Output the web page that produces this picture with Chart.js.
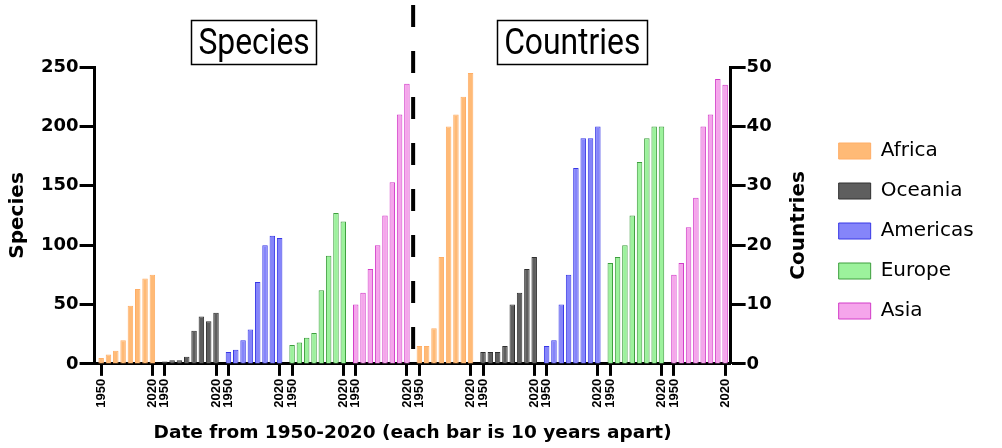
<!DOCTYPE html>
<html>
<head>
<meta charset="utf-8">
<script src="https://cdn.jsdelivr.net/npm/chart.js@4/dist/chart.umd.min.js"></script>
<style>
  body { margin: 0; background: #fff; }
  #wrap { width: 1002px; height: 448px; }
</style>
</head>
<body>
<div id="wrap"><canvas id="myChart"></canvas></div>
<script>
  const years = ['1950', '1960', '1970', '1980', '1990', '2000', '2010', '2020']
  const regions = ['Africa', 'Oceania', 'Americas', 'Europe', 'Asia']

  // species per decade
  const africaSpecies = [5, 8, 11, 20, 49, 63, 72, 75]
  const oceaniaSpecies = [2, 3, 3, 6, 28, 40, 36, 43]
  const americasSpecies = [10, 12, 20, 29, 69, 100, 108, 106]
  const europeSpecies = [16, 18, 22, 26, 62, 91, 127, 120]
  const asiaSpecies = [50, 60, 80, 100, 125, 153, 210, 236]

  // countries per decade
  const africaCountries = [3, 3, 6, 18, 40, 42, 45, 49]
  const oceaniaCountries = [2, 2, 2, 3, 10, 12, 16, 18]
  const americasCountries = [3, 4, 10, 15, 33, 38, 38, 40]
  const europeCountries = [17, 18, 20, 25, 34, 38, 40, 40]
  const asiaCountries = [15, 17, 23, 28, 40, 42, 48, 47]

  const speciesSeries = [africaSpecies, oceaniaSpecies, americasSpecies, europeSpecies, asiaSpecies]
  const countriesSeries = [africaCountries, oceaniaCountries, americasCountries, europeCountries, asiaCountries]

  const fills = ['#FFBA76', '#5E5E5E', '#8585FA', '#9CF29C', '#F5A5EB']
  const edges = ['#FFAE66', '#303030', '#3838E6', '#3E9E3E', '#D23CC8']

  const groupStep = years.length + 0.7   // 8 bars + gap
  const halfSize = regions.length

  function slot(group, i) {
    return group * groupStep + i
  }

  let datasets = []
  speciesSeries.forEach((vals, r) => {
    datasets.push({
      label: regions[r],
      data: vals.map((v, i) => ({ x: slot(r, i), y: v })),
      backgroundColor: fills[r],
      borderColor: edges[r],
      borderWidth: 1,
      yAxisID: 'y'
    })
  })
  countriesSeries.forEach((vals, r) => {
    datasets.push({
      label: regions[r] + ' (countries)',
      data: vals.map((v, i) => ({ x: slot(halfSize + r, i), y: v })),
      backgroundColor: fills[r],
      borderColor: edges[r],
      borderWidth: 1,
      yAxisID: 'y1'
    })
  })

  // x ticks at first and last bar of every group
  let tickVals = []
  for (let g = 0; g < halfSize * 2; g++) {
    tickVals.push(slot(g, 0), slot(g, years.length - 1))
  }

  const lastLeft = slot(halfSize - 1, years.length - 1)
  const firstRight = slot(halfSize, 0)
  const lastRight = slot(halfSize * 2 - 1, years.length - 1)

  const decor = {
    id: 'decor',
    afterDraw(chart) {
      const ctx = chart.ctx
      const xs = chart.scales.x
      const area = chart.chartArea

      // dashed divider
      const xd = xs.getPixelForValue((lastLeft + firstRight) / 2)
      ctx.save()
      ctx.strokeStyle = '#000'
      ctx.lineWidth = 4
      ctx.setLineDash([22, 24])
      ctx.beginPath()
      ctx.moveTo(xd, 5)
      ctx.lineTo(xd, area.bottom)
      ctx.stroke()
      ctx.restore()

      // boxed half titles (narrow lettering)
      const squeeze = 0.86
      const boxes = [
        { text: 'Species', x: xs.getPixelForValue(lastLeft / 2) },
        { text: 'Countries', x: xs.getPixelForValue((firstRight + lastRight) / 2) }
      ]
      ctx.save()
      ctx.font = '37px Roboto, sans-serif'
      ctx.textAlign = 'center'
      ctx.textBaseline = 'alphabetic'
      ctx.fillStyle = '#000'
      ctx.strokeStyle = '#000'
      ctx.lineWidth = 1.5
      boxes.forEach(b => {
        const w = ctx.measureText(b.text).width * squeeze
        ctx.strokeRect(Math.round(b.x - w / 2 - 7) + 0.5, 20.5, Math.round(w + 14), 44)
        ctx.save()
        ctx.translate(b.x, 54)
        ctx.scale(squeeze, 1)
        ctx.fillText(b.text, 0, 0)
        ctx.restore()
      })
      ctx.restore()

      // right axis title, reading bottom to top
      const ys = chart.scales.y1
      ctx.save()
      ctx.translate(ys.right - 20, (area.top + area.bottom) / 2 + 10)
      ctx.rotate(-Math.PI / 2)
      ctx.font = 'bold 20px "DejaVu Sans"'
      ctx.textAlign = 'center'
      ctx.textBaseline = 'middle'
      ctx.fillStyle = '#000'
      ctx.fillText('Countries', 0, 0)
      ctx.restore()
    }
  }

  Chart.defaults.color = '#000'
  Chart.defaults.font.family = '"DejaVu Sans", sans-serif'

  const axisLine = { display: true, width: 3, color: '#000' }
  const axisGrid = { drawOnChartArea: false, tickLength: 15, tickWidth: 3, tickColor: '#000' }

  let ctx = document.getElementById('myChart')

  new Chart(ctx, {
    type: 'bar',
    data: { datasets: datasets },
    plugins: [decor],
    options: {
      responsive: true,
      maintainAspectRatio: false,
      animation: false,
      datasets: {
        bar: { grouped: false, categoryPercentage: 1, barPercentage: 0.75 }
      },
      layout: { padding: { top: 14, bottom: 0, left: 2, right: 20 } },
      plugins: {
        tooltip: { enabled: false },
        title: {
          display: true,
          text: '',
          font: { size: 20 },
          padding: { top: 0, bottom: 29 }
        },
        legend: {
          position: 'right',
          align: 'center',
          labels: {
            boxWidth: 32,
            boxHeight: 16,
            padding: 20,
            color: '#000',
            font: { size: 20, family: '"DejaVu Sans"' },
            filter: item => item.datasetIndex < regions.length
          }
        }
      },
      scales: {
        x: {
          type: 'linear',
          offset: false,
          min: -0.9,
          max: lastRight + 0.75,
          border: axisLine,
          grid: { offset: false, drawOnChartArea: false, tickLength: 12, tickWidth: 3, tickColor: '#000' },
          afterBuildTicks: scale => {
            scale.ticks = tickVals.map(v => ({ value: v }))
          },
          ticks: {
            autoSkip: false,
            minRotation: 90,
            maxRotation: 90,
            padding: 3,
            font: { size: 13, weight: 'bold', family: '"Liberation Sans"' },
            callback: (value, index) => index % 2 === 0 ? years[0] : years[years.length - 1]
          },
          title: {
            display: true,
            text: 'Date from 1950-2020 (each bar is 10 years apart)',
            font: { size: 18.5, weight: 'bold' },
            padding: { top: 11, bottom: 4 }
          }
        },
        y: {
          position: 'left',
          min: 0,
          max: 250,
          border: axisLine,
          grid: axisGrid,
          ticks: { stepSize: 50, padding: 1, font: { size: 18, weight: 'bold' } },
          title: {
            display: true,
            text: 'Species',
            font: { size: 20, weight: 'bold' },
            padding: { top: 4, bottom: 10 }
          }
        },
        y1: {
          position: 'right',
          min: 0,
          max: 50,
          border: axisLine,
          grid: axisGrid,
          ticks: { stepSize: 10, padding: 1, font: { size: 18, weight: 'bold' } },
          title: {
            display: true,
            text: 'Countries',
            color: 'rgba(0,0,0,0)',
            font: { size: 20, weight: 'bold' },
            padding: { top: 11, bottom: 11 }
          }
        }
      }
    }
  })
</script>
</body>
</html>
